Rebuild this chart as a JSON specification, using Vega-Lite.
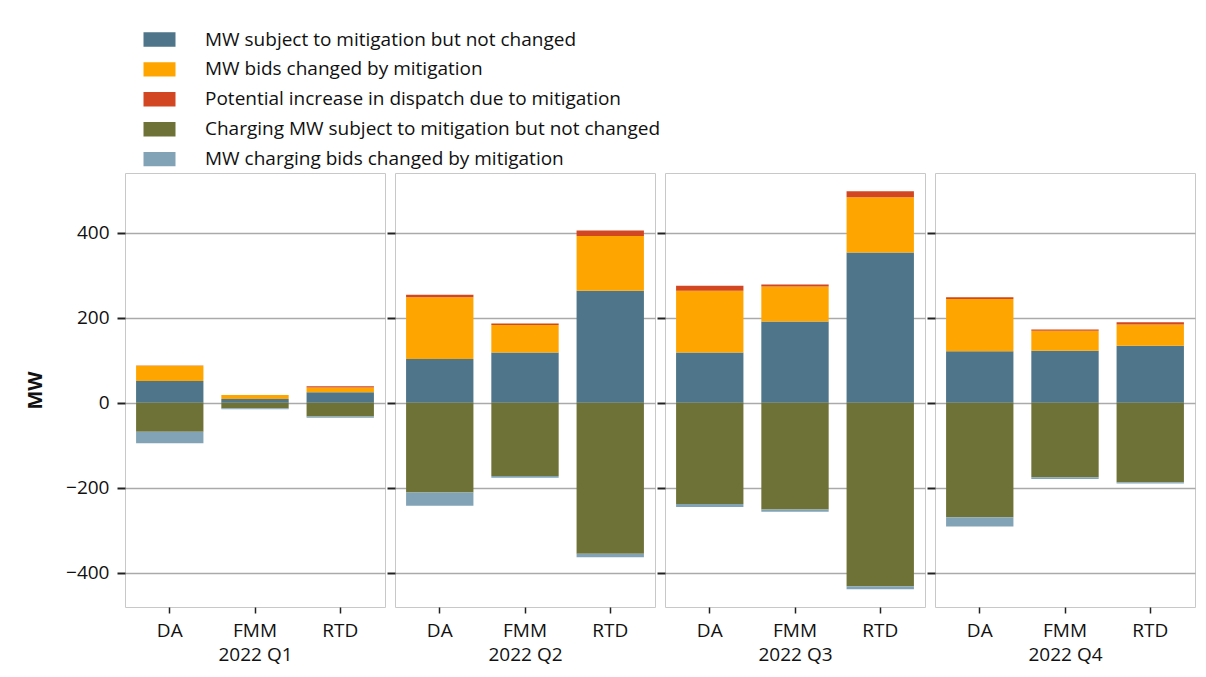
{
  "$schema": "https://vega.github.io/schema/vega-lite/v6.json",
  "padding": {"left": 25, "top": 30, "right": 0, "bottom": 5},
  "background": "white",
  "datasets": {
    "mw": [
      {"q": "2022 Q1", "m": "DA", "MW subject to mitigation but not changed": 51, "MW bids changed by mitigation": 36, "Potential increase in dispatch due to mitigation": 0.5, "Charging MW subject to mitigation but not changed": -68, "MW charging bids changed by mitigation": -27},
      {"q": "2022 Q1", "m": "FMM", "MW subject to mitigation but not changed": 9, "MW bids changed by mitigation": 9, "Potential increase in dispatch due to mitigation": 0.3, "Charging MW subject to mitigation but not changed": -13, "MW charging bids changed by mitigation": -2},
      {"q": "2022 Q1", "m": "RTD", "MW subject to mitigation but not changed": 25, "MW bids changed by mitigation": 11, "Potential increase in dispatch due to mitigation": 3, "Charging MW subject to mitigation but not changed": -32, "MW charging bids changed by mitigation": -3},
      {"q": "2022 Q2", "m": "DA", "MW subject to mitigation but not changed": 103, "MW bids changed by mitigation": 145, "Potential increase in dispatch due to mitigation": 6, "Charging MW subject to mitigation but not changed": -211, "MW charging bids changed by mitigation": -31},
      {"q": "2022 Q2", "m": "FMM", "MW subject to mitigation but not changed": 118, "MW bids changed by mitigation": 65, "Potential increase in dispatch due to mitigation": 3, "Charging MW subject to mitigation but not changed": -172, "MW charging bids changed by mitigation": -4},
      {"q": "2022 Q2", "m": "RTD", "MW subject to mitigation but not changed": 263, "MW bids changed by mitigation": 129, "Potential increase in dispatch due to mitigation": 13, "Charging MW subject to mitigation but not changed": -355, "MW charging bids changed by mitigation": -8},
      {"q": "2022 Q3", "m": "DA", "MW subject to mitigation but not changed": 118, "MW bids changed by mitigation": 145, "Potential increase in dispatch due to mitigation": 12, "Charging MW subject to mitigation but not changed": -238, "MW charging bids changed by mitigation": -7},
      {"q": "2022 Q3", "m": "FMM", "MW subject to mitigation but not changed": 191, "MW bids changed by mitigation": 82, "Potential increase in dispatch due to mitigation": 5, "Charging MW subject to mitigation but not changed": -251, "MW charging bids changed by mitigation": -5},
      {"q": "2022 Q3", "m": "RTD", "MW subject to mitigation but not changed": 353, "MW bids changed by mitigation": 130, "Potential increase in dispatch due to mitigation": 14, "Charging MW subject to mitigation but not changed": -431, "MW charging bids changed by mitigation": -7},
      {"q": "2022 Q4", "m": "DA", "MW subject to mitigation but not changed": 121, "MW bids changed by mitigation": 123, "Potential increase in dispatch due to mitigation": 4, "Charging MW subject to mitigation but not changed": -269, "MW charging bids changed by mitigation": -22},
      {"q": "2022 Q4", "m": "FMM", "MW subject to mitigation but not changed": 122, "MW bids changed by mitigation": 47, "Potential increase in dispatch due to mitigation": 3, "Charging MW subject to mitigation but not changed": -175, "MW charging bids changed by mitigation": -4},
      {"q": "2022 Q4", "m": "RTD", "MW subject to mitigation but not changed": 134, "MW bids changed by mitigation": 50, "Potential increase in dispatch due to mitigation": 5, "Charging MW subject to mitigation but not changed": -187, "MW charging bids changed by mitigation": -3}
    ]
  },
  "data": {"name": "mw"},
  "transform": [
    {"fold": ["MW subject to mitigation but not changed", "MW bids changed by mitigation", "Potential increase in dispatch due to mitigation", "Charging MW subject to mitigation but not changed", "MW charging bids changed by mitigation"], "as": ["series", "MW"]},
    {"calculate": "indexof(['MW subject to mitigation but not changed', 'MW bids changed by mitigation', 'Potential increase in dispatch due to mitigation', 'Charging MW subject to mitigation but not changed', 'MW charging bids changed by mitigation'], datum.series)", "as": "ord"}
  ],
  "spacing": -1,
  "hconcat": [
    {
      "transform": [{"filter": "datum.q === '2022 Q1'"}],
      "width": 260, "height": 434,
      "mark": {"type": "bar"},
      "encoding": {
        "x": {"field": "m", "type": "nominal", "sort": ["DA", "FMM", "RTD"], "scale": {"paddingInner": 0.21, "paddingOuter": 0.13}, "axis": {"title": "2022 Q1"}},
        "y": {"field": "MW", "type": "quantitative", "stack": "zero", "scale": {"domain": [-480, 540], "nice": false}, "axis": {"title": "MW", "values": [-400, -200, 0, 200, 400]}},
        "color": {"field": "series", "type": "nominal",
          "scale": {"domain": ["MW subject to mitigation but not changed", "MW bids changed by mitigation", "Potential increase in dispatch due to mitigation", "Charging MW subject to mitigation but not changed", "MW charging bids changed by mitigation"], "range": ["#4e7589", "#ffa500", "#d24621", "#6f7237", "#82a3b6"]},
          "legend": {"title": null, "orient": "none", "legendX": 25, "legendY": -143, "direction": "vertical", "symbolType": "M-2,-0.9H2V0.9H-2Z", "symbolSize": 256, "symbolStrokeWidth": 0, "symbolOpacity": 1, "labelFontSize": 19, "labelFont": "Open Sans", "labelColor": "#111", "labelOffset": 36, "rowPadding": 9.9, "labelLimit": 700}},
        "order": {"field": "ord", "type": "quantitative"}
      }
    },
    {
      "transform": [{"filter": "datum.q === '2022 Q2'"}],
      "width": 260, "height": 434,
      "mark": {"type": "bar"},
      "encoding": {
        "x": {"field": "m", "type": "nominal", "sort": ["DA", "FMM", "RTD"], "scale": {"paddingInner": 0.21, "paddingOuter": 0.13}, "axis": {"title": "2022 Q2"}},
        "y": {"field": "MW", "type": "quantitative", "stack": "zero", "scale": {"domain": [-480, 540], "nice": false}, "axis": {"title": null, "labels": false, "values": [-400, -200, 0, 200, 400]}},
        "color": {"field": "series", "type": "nominal"},
        "order": {"field": "ord", "type": "quantitative"}
      }
    },
    {
      "transform": [{"filter": "datum.q === '2022 Q3'"}],
      "width": 260, "height": 434,
      "mark": {"type": "bar"},
      "encoding": {
        "x": {"field": "m", "type": "nominal", "sort": ["DA", "FMM", "RTD"], "scale": {"paddingInner": 0.21, "paddingOuter": 0.13}, "axis": {"title": "2022 Q3"}},
        "y": {"field": "MW", "type": "quantitative", "stack": "zero", "scale": {"domain": [-480, 540], "nice": false}, "axis": {"title": null, "labels": false, "values": [-400, -200, 0, 200, 400]}},
        "color": {"field": "series", "type": "nominal"},
        "order": {"field": "ord", "type": "quantitative"}
      }
    },
    {
      "transform": [{"filter": "datum.q === '2022 Q4'"}],
      "width": 260, "height": 434,
      "mark": {"type": "bar"},
      "encoding": {
        "x": {"field": "m", "type": "nominal", "sort": ["DA", "FMM", "RTD"], "scale": {"paddingInner": 0.21, "paddingOuter": 0.13}, "axis": {"title": "2022 Q4"}},
        "y": {"field": "MW", "type": "quantitative", "stack": "zero", "scale": {"domain": [-480, 540], "nice": false}, "axis": {"title": null, "labels": false, "values": [-400, -200, 0, 200, 400]}},
        "color": {"field": "series", "type": "nominal"},
        "order": {"field": "ord", "type": "quantitative"}
      }
    }
  ],
  "resolve": {"scale": {"color": "shared", "y": "shared"}},
  "config": {
    "font": "Open Sans",
    "view": {"stroke": "#c8c8c8", "strokeWidth": 1},
    "axis": {"labelFont": "Open Sans", "labelFontSize": 19, "labelColor": "#111", "titleFont": "Open Sans", "titleFontSize": 19, "titleColor": "#111", "titleFontWeight": "normal", "tickColor": "#222", "tickWidth": 2, "domain": false},
    "axisX": {"labelAngle": 0, "tickSize": 6, "tickWidth": 1.5, "labelPadding": 8, "titlePadding": 5, "grid": false},
    "axisY": {"grid": true, "gridColor": "#aaaaaa", "gridWidth": 1.5, "tickSize": 8, "labelPadding": 8, "titleFontWeight": "bold", "titleFontSize": 20, "titlePadding": 20}
  }
}
